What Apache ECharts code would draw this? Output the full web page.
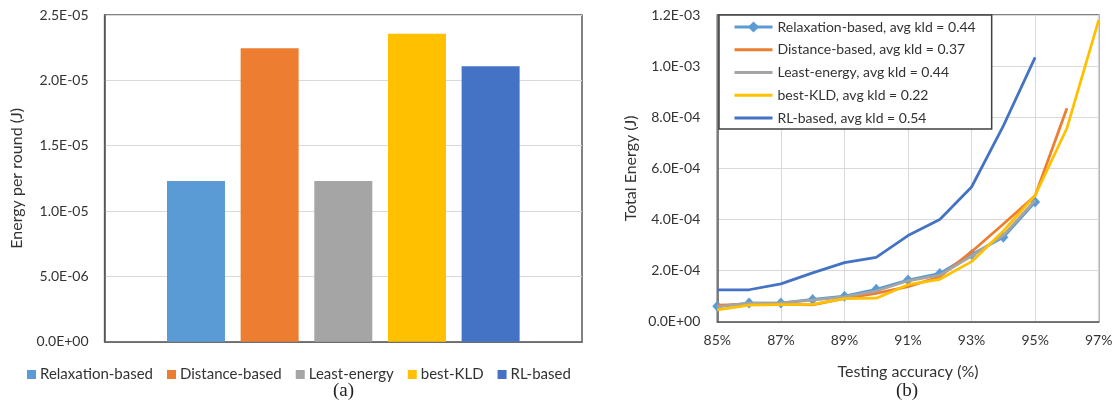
<!DOCTYPE html>
<html>
<head>
<meta charset="utf-8">
<script src="https://cdn.jsdelivr.net/npm/echarts@6/dist/echarts.min.js"></script>
<style>
html,body{margin:0;padding:0;background:#fff;}
#chart{width:1120px;height:407px;}
</style>
</head>
<body>
<div id="chart"></div>
<script>
// ---- Panel (a): energy per round ----
const barNames = ['Relaxation-based', 'Distance-based', 'Least-energy', 'best-KLD', 'RL-based'];
const barValues = [1.23e-5, 2.245e-5, 1.23e-5, 2.357e-5, 2.107e-5];
const barColors = ['#5B9BD5', '#ED7D31', '#A5A5A5', '#FFC000', '#4472C4'];

// ---- Panel (b): total energy vs testing accuracy ----
const accCategories = ['85%', '86%', '87%', '88%', '89%', '90%', '91%', '92%', '93%', '94%', '95%', '96%', '97%'];
const lineNames = [
  'Relaxation-based, avg kld = 0.44',
  'Distance-based, avg kld = 0.37',
  'Least-energy, avg kld = 0.44',
  'best-KLD, avg kld = 0.22',
  'RL-based, avg kld = 0.54'
];
const relaxEnergy = [6.0e-5, 7.3e-5, 7.3e-5, 8.7e-5, 1.00e-4, 1.27e-4, 1.63e-4, 1.89e-4, 2.63e-4, 3.30e-4, 4.68e-4];
const distEnergy = [6.5e-5, 6.8e-5, 6.8e-5, 6.6e-5, 9.1e-5, 1.11e-4, 1.37e-4, 1.76e-4, 2.74e-4, 3.82e-4, 4.93e-4, 8.35e-4];
const leastEnergy = [5.8e-5, 7.3e-5, 7.4e-5, 8.4e-5, 9.7e-5, 1.20e-4, 1.60e-4, 1.82e-4, 2.57e-4, 3.38e-4, 4.75e-4];
const bestKldEnergy = [4.6e-5, 6.5e-5, 6.7e-5, 6.8e-5, 9.0e-5, 9.2e-5, 1.45e-4, 1.66e-4, 2.35e-4, 3.55e-4, 4.94e-4, 7.57e-4, 1.18e-3];
const rlEnergy = [1.25e-4, 1.25e-4, 1.48e-4, 1.91e-4, 2.31e-4, 2.52e-4, 3.37e-4, 4.00e-4, 5.27e-4, 7.66e-4, 1.034e-3];
const lineSeriesData = [relaxEnergy, distEnergy, leastEnergy, bestKldEnergy, rlEnergy];

const FONT = 'Lato';
const TXT = '#333333';
const AXIS = '#595959';
const GRIDC = '#D9D9D9';

function sci(v) {
  if (v === 0) return '0.0E+00';
  const s = Number(v).toExponential(1);
  const parts = s.split('e');
  const e = parseInt(parts[1], 10);
  return parts[0] + 'E' + (e < 0 ? '-' : '+') + String(Math.abs(e)).padStart(2, '0');
}

const chart = echarts.init(document.getElementById('chart'), null, {renderer: 'canvas'});

const series = [];
barNames.forEach((n, i) => {
  series.push({
    type: 'bar', name: n, xAxisIndex: 0, yAxisIndex: 0,
    data: [barValues[i]], barWidth: 58, barGap: '27%',
    itemStyle: {color: barColors[i]}
  });
});
lineNames.forEach((n, i) => {
  const isRelax = i === 0;
  series.push({
    type: 'line', name: n, xAxisIndex: 1, yAxisIndex: 1,
    data: lineSeriesData[i],
    symbol: isRelax ? 'diamond' : 'none',
    symbolSize: [10, 11],
    showSymbol: isRelax,
    lineStyle: {color: barColors[i], width: 2.75},
    itemStyle: {color: barColors[i]},
    z: 2 + i
  });
});

const lineLegendData = lineNames.map((n, i) => (
  i === 0 ? {name: n} : {name: n, itemStyle: {opacity: 0}}
));

const option = {
  animation: false,
  backgroundColor: '#ffffff',
  textStyle: {fontFamily: FONT, color: TXT},
  grid: [
    {left: 104.6, top: 15, width: 477.4, height: 326.7, show: true, borderColor: AXIS, borderWidth: 1.5, backgroundColor: 'transparent'},
    {left: 717.3, top: 15, width: 381.4, height: 306.7, show: true, borderColor: AXIS, borderWidth: 1.5, backgroundColor: 'transparent'}
  ],
  xAxis: [
    {gridIndex: 0, type: 'category', data: [''], axisLabel: {show: false}, axisTick: {show: false},
     axisLine: {lineStyle: {color: AXIS, width: 1.5}}},
    {gridIndex: 1, type: 'category', data: accCategories, boundaryGap: false,
     axisTick: {show: false},
     axisLine: {lineStyle: {color: AXIS, width: 1.5}},
     axisLabel: {interval: 1, fontFamily: FONT, fontSize: 14, color: TXT, margin: 12},
     splitLine: {show: true, interval: 1, lineStyle: {color: GRIDC, width: 1}},
     name: 'Testing accuracy (%)', nameLocation: 'middle', nameGap: 42,
     nameTextStyle: {fontFamily: FONT, fontSize: 16, color: TXT}}
  ],
  yAxis: [
    {gridIndex: 0, type: 'value', min: 0, max: 2.5e-5, interval: 5e-6,
     axisLine: {show: true, lineStyle: {color: AXIS, width: 1.5}}, axisTick: {show: false},
     axisLabel: {formatter: sci, fontFamily: FONT, fontSize: 14, color: TXT, margin: 16},
     splitLine: {lineStyle: {color: GRIDC, width: 1}},
     name: 'Energy per round (J)', nameLocation: 'middle', nameGap: 80, nameRotate: 90,
     nameTextStyle: {fontFamily: FONT, fontSize: 16, color: TXT}},
    {gridIndex: 1, type: 'value', min: 0, max: 1.2e-3, interval: 2e-4,
     axisLine: {show: true, lineStyle: {color: AXIS, width: 1.5}}, axisTick: {show: false},
     axisLabel: {formatter: sci, fontFamily: FONT, fontSize: 14, color: TXT, margin: 17},
     splitLine: {lineStyle: {color: GRIDC, width: 1}},
     name: 'Total Energy (J)', nameLocation: 'middle', nameGap: 78, nameRotate: 90,
     nameTextStyle: {fontFamily: FONT, fontSize: 16, color: TXT}}
  ],
  legend: [
    {data: barNames, orient: 'horizontal', left: 22, top: 362, icon: 'rect',
     itemWidth: 9, itemHeight: 9, itemGap: 14,
     textStyle: {fontFamily: FONT, fontSize: 15, color: TXT, padding: [0, 0, 0, -1]}},
    {data: lineLegendData, orient: 'vertical', left: 719, top: 15,
     itemWidth: 38, itemHeight: 14, itemGap: 6.75,
     padding: [4, 16, 3, 14],
     lineStyle: {width: 3},
     borderColor: '#404040', borderWidth: 1.5, backgroundColor: '#ffffff',
     textStyle: {fontFamily: FONT, fontSize: 14, color: TXT, lineHeight: 16}}
  ],
  graphic: [
    {type: 'text', left: 333, top: 382, style: {text: '(a)', font: '19px "Liberation Serif"', fill: '#222'}},
    {type: 'text', left: 896, top: 382, style: {text: '(b)', font: '19px "Liberation Serif"', fill: '#222'}}
  ],
  series: series
};
chart.setOption(option);
</script>
</body>
</html>
